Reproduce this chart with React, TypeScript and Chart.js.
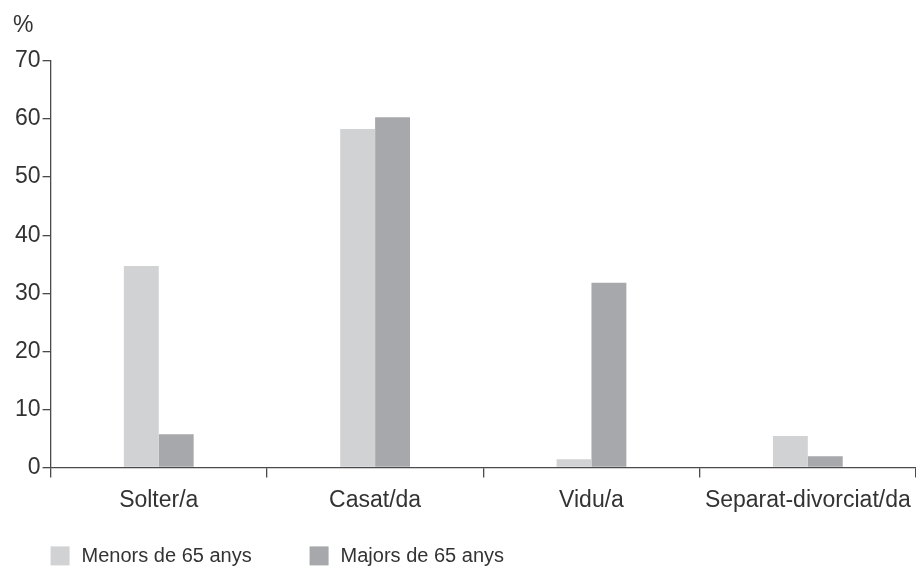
import React, { useEffect, useRef } from "react";
import { Chart, registerables } from "chart.js";

Chart.register(...registerables);

const categories = ["Solter/a", "Casat/da", "Vidu/a", "Separat-divorciat/da"];
const seriesNames = ["Menors de 65 anys", "Majors de 65 anys"];
const menors = [34.7, 58.3, 1.4, 5.4];
const majors = [5.7, 60.3, 31.8, 1.9];
const yMin = 0;
const yMax = 70;
const yStep = 10;

const FONT = "'Liberation Sans', Arial, Helvetica, sans-serif";
const TEXT = "#333333";
const AXIS = "#4a4a4a";
const LIGHT = "#d1d2d4";
const DARK = "#a7a8ab";

const legendPlugin = {
  id: "customLegend",
  afterDraw(chart: any) {
    const { ctx, chartArea } = chart;
    const ds = chart.data.datasets;
    let x = chartArea.left;
    const y = chartArea.bottom + 79;
    ctx.save();
    ds.forEach((d: any) => {
      ctx.fillStyle = d.backgroundColor;
      ctx.fillRect(x, y, 19, 19);
      ctx.fillStyle = TEXT;
      ctx.font = `20px ${FONT}`;
      ctx.textBaseline = "middle";
      ctx.textAlign = "left";
      ctx.fillText(d.label, x + 31, y + 10);
      x += 259;
    });
    ctx.restore();
  },
};

export default function App() {
  const ref = useRef<HTMLCanvasElement | null>(null);
  useEffect(() => {
    if (!ref.current) return;
    const chart = new Chart(ref.current, {
      type: "bar",
      data: {
        labels: categories,
        datasets: [
          { label: seriesNames[0], data: menors, backgroundColor: LIGHT, borderWidth: 0 },
          { label: seriesNames[1], data: majors, backgroundColor: DARK, borderWidth: 0 },
        ],
      },
      options: {
        responsive: false,
        animation: false,
        layout: { padding: { top: 14, left: 13, right: 0, bottom: 43 } },
        datasets: {
          bar: { categoryPercentage: 0.3226, barPercentage: 1.0 },
        },
        plugins: {
          legend: { display: false },
          tooltip: { enabled: false },
          title: {
            display: true,
            text: "%",
            align: "start",
            color: TEXT,
            font: { family: FONT, size: 23, weight: "normal", lineHeight: 1 },
            padding: { top: 0, bottom: 24 },
          },
        },
        scales: {
          x: {
            offset: true,
            afterFit: (scale: any) => {
              scale.paddingRight = 0;
            },
            grid: {
              display: true,
              offset: true,
              drawOnChartArea: false,
              drawTicks: true,
              tickLength: 10,
              color: AXIS,
              lineWidth: 1.3,
            },
            border: { display: true, color: AXIS, width: 1.3 },
            ticks: {
              color: TEXT,
              padding: 9,
              font: { family: FONT, size: 23 },
              maxRotation: 0,
            },
          },
          y: {
            min: yMin,
            max: yMax,
            grid: {
              display: true,
              drawOnChartArea: false,
              drawTicks: true,
              tickLength: 8,
              color: AXIS,
              lineWidth: 1.3,
            },
            border: { display: true, color: AXIS, width: 1.3 },
            ticks: {
              stepSize: yStep,
              color: TEXT,
              padding: 2,
              font: { family: FONT, size: 23 },
            },
          },
        },
      },
      plugins: [legendPlugin],
    });
    return () => chart.destroy();
  }, []);
  return (
    <div style={{ position: "absolute", left: 0, top: 0, width: 916, height: 566, background: "#fff" }}>
      <canvas ref={ref} width={916} height={566} style={{ display: "block" }} />
    </div>
  );
}
